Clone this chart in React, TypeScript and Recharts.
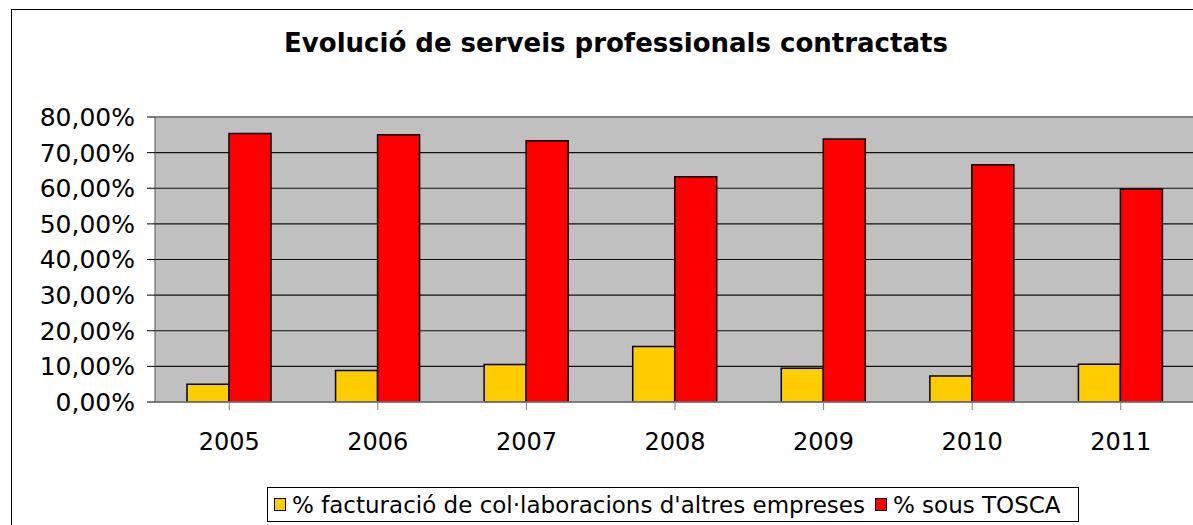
import {
  Bar,
  BarChart,
  CartesianGrid,
  Legend,
  ReferenceLine,
  XAxis,
  YAxis,
} from "recharts";

const YEARS = ["2005", "2006", "2007", "2008", "2009", "2010", "2011"];
const COLLAB_PCT = [5.0, 8.85, 10.5, 15.6, 9.5, 7.3, 10.6];
const TOSCA_PCT = [75.4, 75.0, 73.3, 63.2, 73.8, 66.6, 59.8];
const Y_TICKS = [0, 10, 20, 30, 40, 50, 60, 70, 80];

const SERIES = [
  { key: "collab", label: "% facturació de col·laboracions d'altres empreses", color: "#FFCC00" },
  { key: "tosca", label: "% sous TOSCA", color: "#FF0000" },
];

const FONT = "'DejaVu Sans', Verdana, sans-serif";
const LEGEND_H = 35;

const data = YEARS.map((year, i) => ({
  year,
  collab: COLLAB_PCT[i],
  tosca: TOSCA_PCT[i],
}));

const formatPct = (v: number) => `${v.toFixed(2).replace(".", ",")}%`;

function LegendBox() {
  return (
    <div
      style={{
        display: "flex",
        alignItems: "center",
        height: `${LEGEND_H}px`,
        boxSizing: "border-box",
        border: "1px solid #000",
        background: "#fff",
        padding: "0 6px",
        fontFamily: FONT,
        fontSize: "23px",
        color: "#000",
        whiteSpace: "nowrap",
        overflow: "hidden",
      }}
    >
      {SERIES.map((s) => (
        <span key={s.key} style={{ display: "flex", alignItems: "center", marginRight: "10px" }}>
          <span
            style={{
              display: "inline-block",
              width: "10px",
              height: "11px",
              background: s.color,
              border: "1.5px solid #000",
              marginRight: "6px",
            }}
          />
          {s.label}
        </span>
      ))}
    </div>
  );
}

export default function App() {
  return (
    <div
      style={{
        position: "fixed",
        left: 0,
        top: 0,
        width: "1193px",
        height: "525px",
        overflow: "hidden",
        background: "#fff",
      }}
    >
      {/* outer chart frame, cropped on the right and bottom like the source */}
      <div
        style={{
          position: "absolute",
          left: "11px",
          top: "9px",
          width: "1210px",
          height: "530px",
          border: "1.5px solid #000",
        }}
      />
      <div
        style={{
          position: "absolute",
          left: "11px",
          top: "28px",
          width: "1210px",
          textAlign: "center",
          fontFamily: FONT,
          fontWeight: 700,
          fontSize: "26px",
          color: "#000",
        }}
      >
        Evolució de serveis professionals contractats
      </div>
      <div style={{ position: "absolute", left: 0, top: 0 }}>
        <BarChart
          width={1225}
          height={525}
          data={data}
          margin={{ top: 117, right: 30, bottom: 93 - LEGEND_H, left: 0 }}
          barGap={0}
          barSize={42}
        >
          <CartesianGrid
            vertical={false}
            horizontal
            fill="#C0C0C0"
            fillOpacity={1}
            stroke="#111"
            strokeWidth={1.2}
          />
          <XAxis
            dataKey="year"
            height={30}
            tickSize={8}
            tickMargin={23}
            axisLine={{ stroke: "#808080", strokeWidth: 1.5 }}
            tickLine={{ stroke: "#808080" }}
            tick={{ fill: "#000", fontSize: 24, fontFamily: FONT }}
            interval={0}
          />
          <YAxis
            width={155}
            domain={[0, 80]}
            ticks={Y_TICKS}
            tickFormatter={formatPct}
            tickSize={8}
            tickMargin={12}
            axisLine={{ stroke: "#555", strokeWidth: 1 }}
            tickLine={{ stroke: "#000" }}
            tick={{ fill: "#000", fontSize: 25, fontFamily: FONT }}
            allowDataOverflow
          />
          <ReferenceLine y={80} stroke="#808080" strokeWidth={2} />
          {SERIES.map((s) => (
            <Bar
              key={s.key}
              dataKey={s.key}
              name={s.label}
              fill={s.color}
              stroke="#000"
              strokeWidth={1.5}
              isAnimationActive={false}
            />
          ))}
          <Legend
            content={() => <LegendBox />}
            wrapperStyle={{
              position: "absolute",
              left: 267,
              top: 487,
              width: 812,
              height: LEGEND_H,
            }}
          />
        </BarChart>
      </div>
    </div>
  );
}
